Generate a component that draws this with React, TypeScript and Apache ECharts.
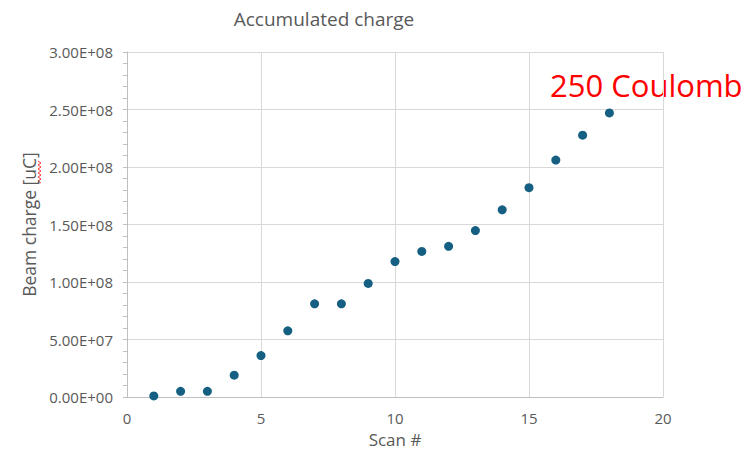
import React, { useEffect, useRef } from "react";
import * as echarts from "echarts";

const scans = [1, 2, 3, 4, 5, 6, 7, 8, 9, 10, 11, 12, 13, 14, 15, 16, 17, 18];
const charge = [
  0.9e6, 4.9e6, 4.9e6, 1.9e7, 3.6e7, 5.75e7, 8.1e7, 8.1e7, 9.88e7, 1.178e8,
  1.266e8, 1.31e8, 1.447e8, 1.628e8, 1.82e8, 2.06e8, 2.277e8, 2.47e8,
];
const titleText = "Accumulated charge";
const xName = "Scan #";
const yName = "Beam charge [uC]";
const noteText = "250 Coulomb";

const fmtExp = (v: number) => {
  if (v === 0) return "0.00E+00";
  const e = Math.floor(Math.log10(Math.abs(v)));
  const m = v / Math.pow(10, e);
  return `${m.toFixed(2)}E${e >= 0 ? "+" : "-"}${String(Math.abs(e)).padStart(2, "0")}`;
};

// Wavy spell-check style underline next to "uC]"
const squiggle: number[][] = [];
for (let i = 0; i <= 11; i++) squiggle.push([i % 2 === 0 ? 38 : 41, 161 + i * 2]);

export default function App() {
  const ref = useRef<HTMLDivElement>(null);
  useEffect(() => {
    if (!ref.current) return;
    const chart = echarts.init(ref.current, undefined, { renderer: "svg" });
    const font = "'Open Sans', 'Liberation Sans', sans-serif";
    chart.setOption({
      animation: false,
      backgroundColor: "#ffffff",
      textStyle: { fontFamily: font },
      title: {
        text: titleText,
        left: 319,
        top: 4,
        textAlign: "center",
        textStyle: { fontSize: 19, fontWeight: "normal", color: "#595959", fontFamily: font },
      },
      grid: { left: 127, right: 90, top: 52, bottom: 59 },
      xAxis: {
        type: "value",
        min: 0,
        max: 20,
        interval: 5,
        name: xName,
        nameLocation: "middle",
        nameGap: 34,
        nameTextStyle: { fontSize: 17, color: "#595959" },
        axisLine: { show: true, lineStyle: { color: "#bfbfbf" } },
        axisTick: { show: false },
        axisLabel: { fontSize: 15, color: "#595959", margin: 13 },
        splitLine: { show: true, lineStyle: { color: "#d9d9d9" } },
      },
      yAxis: {
        type: "value",
        min: 0,
        max: 3e8,
        interval: 5e7,
        name: yName,
        nameLocation: "middle",
        nameGap: 88,
        nameTextStyle: { fontSize: 17.5, color: "#595959" },
        axisLine: { show: true, lineStyle: { color: "#bfbfbf" } },
        axisTick: { show: true, length: 4, lineStyle: { color: "#bfbfbf" } },
        minorTick: { show: true, splitNumber: 5, length: 4, lineStyle: { color: "#bfbfbf" } },
        axisLabel: { fontSize: 15, color: "#595959", margin: 14, formatter: fmtExp },
        splitLine: { show: true, lineStyle: { color: "#d9d9d9" } },
      },
      series: [
        {
          type: "scatter",
          data: scans.map((s, i) => [s, charge[i]]),
          symbol: "circle",
          symbolSize: 9,
          itemStyle: { color: "#156082", opacity: 1 },
        },
      ],
      graphic: [
        {
          type: "text",
          left: 550,
          top: 69,
          style: { text: noteText, fontSize: 31, fill: "#ff0000", fontFamily: font },
        },
        {
          type: "polyline",
          shape: { points: squiggle },
          style: { stroke: "#ff3b3b", lineWidth: 1, fill: "none" },
        },
      ],
    });
    return () => chart.dispose();
  }, []);
  return (
    <div
      ref={ref}
      style={{ position: "fixed", left: 0, top: 0, width: 753, height: 456 }}
    />
  );
}
